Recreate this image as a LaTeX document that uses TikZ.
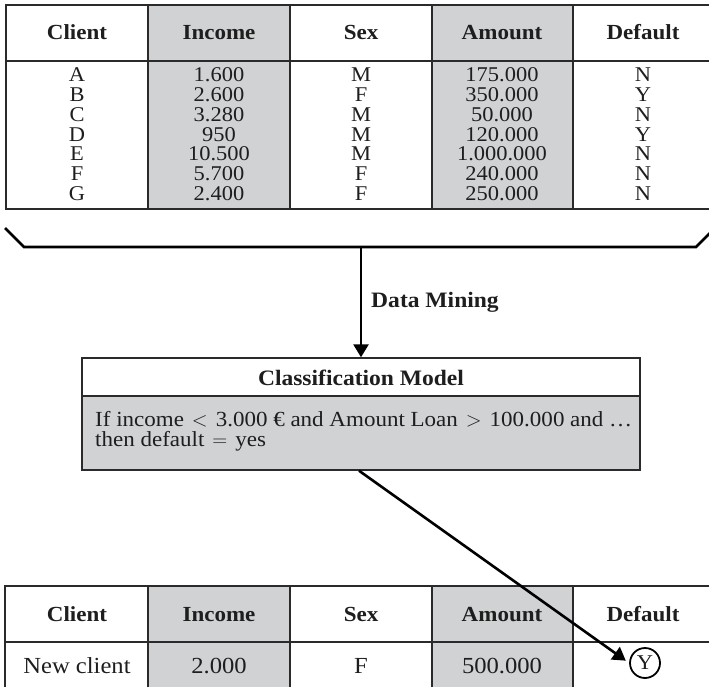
\documentclass[tikz,border=0pt]{standalone}
\usepackage{fontspec}
\setmainfont{Liberation Serif}[FakeStretch=1.07]
\usetikzlibrary{arrows.meta}
\definecolor{cellgray}{HTML}{D1D2D4}
\definecolor{rulecol}{HTML}{2A2A2A}
\definecolor{ink}{HTML}{1E1E1E}
\newcommand{\relgap}{\hspace{8pt}}
\begin{document}
\begin{tikzpicture}[x=1pt,y=-1pt,
  gridline/.style={draw=rulecol, line width=1.4pt},
  hdr/.style={font=\fontsize{21.5}{24}\selectfont\bfseries, text=ink, inner sep=0pt, anchor=base},
  dat/.style={font=\fontsize{21}{22}\selectfont, text=ink, inner sep=0pt, anchor=base},
  datb/.style={font=\fontsize{23}{24}\selectfont, text=ink, inner sep=0pt, anchor=base},
  conn/.style={draw=black, line width=2.6pt, -{Triangle[length=13pt,width=15pt]}}]
\useasboundingbox (0,0) rectangle (709,687);

% ---------- top table ----------
\fill[cellgray] (148,5) rectangle (290,209);
\fill[cellgray] (432,5) rectangle (573,209);
\draw[gridline] (715,5) -- (6,5) -- (6,209) -- (715,209);
\draw[gridline] (6,61) -- (715,61);
\foreach \x in {148,290,432,573} \draw[gridline] (\x,5) -- (\x,209);

\node[hdr] (th1) at (77,40) {Client};
\node[hdr] (th2) at (219,40) {Income};
\node[hdr] (th3) at (361,40) {Sex};
\node[hdr] (th4) at (502,40) {Amount};
\node[hdr] (th5) at (643,40) {Default};

\foreach \c/\i/\s/\a/\d [count=\r from 0] in
  {A/1.600/M/175.000/N, B/2.600/F/350.000/Y, C/3.280/M/50.000/N,
   D/950/M/120.000/Y, E/10.500/M/1.000.000/N, F/5.700/F/240.000/N,
   G/2.400/F/250.000/N}{
  \pgfmathsetmacro{\yy}{82+19.7*\r}
  \node[dat] (tc\r) at (77,\yy) {\c};
  \node[dat] (ti\r) at (219,\yy) {\i};
  \node[dat] (ts\r) at (361,\yy) {\s};
  \node[dat] (ta\r) at (502,\yy) {\a};
  \node[dat] (td\r) at (643,\yy) {\d};
}

% ---------- bracket ----------
\draw[line width=2.6pt, draw=black] (5,228) -- (24,247) -- (696,247) -- (715,228);
\coordinate (bm) at (361,247);

% ---------- classification model ----------
\node[draw=rulecol, line width=1.4pt, fill=white, minimum width=558pt, minimum height=38pt, inner sep=0pt] (cmh) at (361,377) {};
\node[hdr, anchor=center, font=\fontsize{22}{24}\selectfont\bfseries] (cmt) at (361,378) {Classification Model};
\node[draw=rulecol, line width=1.4pt, fill=cellgray, minimum width=558pt, minimum height=74pt, inner sep=0pt] (cmb) at (361,433) {};
\node[font=\fontsize{21.5}{20.5}\selectfont, text=ink, align=left, anchor=west, inner sep=0pt] (rule) at (95,431)
  {If income\relgap\(<\)\relgap 3.000 € and Amount Loan\relgap\(>\)\relgap 100.000 and \dots\\ then default\relgap\(=\)\relgap yes};

\draw[conn] (bm) -- (cmh.north);
\node[hdr, font=\fontsize{22}{24}\selectfont\bfseries] (dm) at (435,307) {Data Mining};

% ---------- bottom table ----------
\fill[cellgray] (148,586) rectangle (290,700);
\fill[cellgray] (432,586) rectangle (573,700);
\draw[gridline] (715,586) -- (5,586) -- (5,700);
\draw[gridline] (5,642) -- (715,642);
\foreach \x in {148,290,432,573} \draw[gridline] (\x,586) -- (\x,700);

\node[hdr] (bh1) at (77,621) {Client};
\node[hdr] (bh2) at (219,621) {Income};
\node[hdr] (bh3) at (361,621) {Sex};
\node[hdr] (bh4) at (502,621) {Amount};
\node[hdr] (bh5) at (643,621) {Default};

\node[datb] (bc) at (77,673) {New client};
\node[datb] (bi) at (219,673) {2.000};
\node[datb] (bs) at (361,673) {F};
\node[datb] (ba) at (502,673) {500.000};
\node[circle, draw=black, line width=1.8pt, minimum size=30pt, inner sep=0pt,
      font=\fontsize{21}{22}\selectfont, text=ink] (Y) at (645,663) {Y};

\draw[conn, shorten >=4pt] ([xshift=-2pt]cmb.south) -- (Y.west);
\end{tikzpicture}
\end{document}
